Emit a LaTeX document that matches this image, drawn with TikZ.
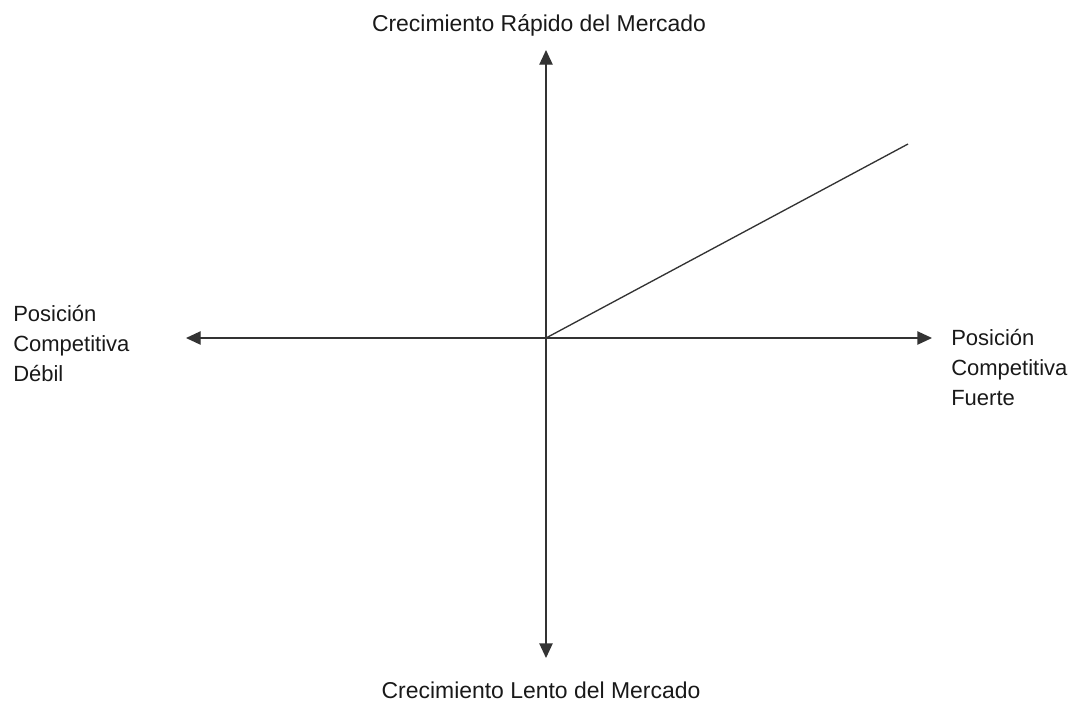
\documentclass[tikz,border=0pt]{standalone}
\usepackage{fontspec}
\setmainfont{Liberation Sans}
\usetikzlibrary{arrows.meta}
\begin{document}
\begin{tikzpicture}[x=0.75pt,y=-0.75pt,
  axis/.style={draw=black!80,line width=1pt,-{Triangle[length=11pt,width=10pt]}},
  lbl/.style={font=\fontsize{16.5}{22.5}\selectfont,text=black!90,inner sep=0pt},
  ttl/.style={lbl,font=\fontsize{17.2}{22.5}\selectfont},
  side/.style={lbl,align=left,anchor=west}]
\useasboundingbox (0,0) rectangle (1070,707);
\coordinate (o) at (546,338);
\coordinate (top) at (546,50);
\coordinate (bot) at (546,658);
\coordinate (lft) at (186,338);
\coordinate (rgt) at (932,338);
\coordinate (diag) at (908,144);
\draw[axis] (o) -- (top);
\draw[axis] (o) -- (bot);
\draw[axis] (o) -- (lft);
\draw[axis] (o) -- (rgt);
\draw[draw=black!80,line width=1pt] (o) -- (diag);
\node[ttl] (tl) at (539,25) {Crecimiento Rápido del Mercado};
\node[ttl] (bl) at (541,690) {Crecimiento Lento del Mercado};
\node[side] (ll) at (13,344) {Posición\\Competitiva\\Débil};
\node[side] (rl) at (951,368) {Posición\\Competitiva\\Fuerte};
\end{tikzpicture}
\end{document}
